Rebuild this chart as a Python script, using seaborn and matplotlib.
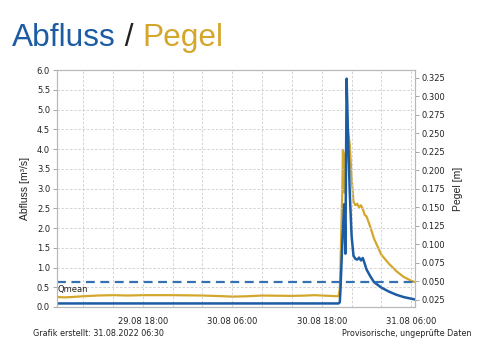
import pandas as pd
import numpy as np
import matplotlib
matplotlib.use("Agg")
import matplotlib.pyplot as plt
import matplotlib.dates as mdates
import seaborn as sns

# Abfluss (discharge, m3/s) - left axis
q_time = ["2022-08-29 06:30", "2022-08-30 20:15", "2022-08-30 20:25", "2022-08-30 20:30",
          "2022-08-30 20:45", "2022-08-30 21:00", "2022-08-30 21:05", "2022-08-30 21:10",
          "2022-08-30 21:20", "2022-08-30 21:30", "2022-08-30 21:45", "2022-08-30 22:00",
          "2022-08-30 22:15", "2022-08-30 22:30", "2022-08-30 22:45", "2022-08-30 23:00",
          "2022-08-30 23:15", "2022-08-30 23:30", "2022-08-30 23:45", "2022-08-31 00:00",
          "2022-08-31 00:30", "2022-08-31 01:00", "2022-08-31 01:30", "2022-08-31 02:00",
          "2022-08-31 03:00", "2022-08-31 04:00", "2022-08-31 05:00", "2022-08-31 06:00",
          "2022-08-31 06:30"]
q_vals = [0.09, 0.09, 0.12, 0.4,
          1.6, 2.6, 2.2, 1.35,
          5.78, 4.5, 2.9, 1.8,
          1.3, 1.22, 1.2, 1.25,
          1.18, 1.24, 1.1, 0.95,
          0.78, 0.63, 0.56, 0.49,
          0.39, 0.31, 0.25, 0.21,
          0.19]

# Pegel (water level, m) - right axis
h_time = ["2022-08-29 06:30", "2022-08-29 07:30", "2022-08-29 08:30", "2022-08-29 10:00",
          "2022-08-29 12:00", "2022-08-29 14:00", "2022-08-29 16:00", "2022-08-29 18:00",
          "2022-08-29 22:00", "2022-08-30 02:00", "2022-08-30 05:00", "2022-08-30 06:00",
          "2022-08-30 08:00", "2022-08-30 10:00", "2022-08-30 14:00", "2022-08-30 16:00",
          "2022-08-30 17:00", "2022-08-30 18:00", "2022-08-30 20:15", "2022-08-30 20:25",
          "2022-08-30 20:30", "2022-08-30 20:45", "2022-08-30 20:50", "2022-08-30 21:00",
          "2022-08-30 21:05", "2022-08-30 21:10", "2022-08-30 21:20", "2022-08-30 21:30",
          "2022-08-30 21:45", "2022-08-30 22:00", "2022-08-30 22:15", "2022-08-30 22:30",
          "2022-08-30 22:45", "2022-08-30 23:00", "2022-08-30 23:15", "2022-08-30 23:30",
          "2022-08-30 23:45", "2022-08-31 00:00", "2022-08-31 00:30", "2022-08-31 01:00",
          "2022-08-31 01:30", "2022-08-31 02:00", "2022-08-31 03:00", "2022-08-31 04:00",
          "2022-08-31 05:00", "2022-08-31 06:00", "2022-08-31 06:30"]
h_vals = [0.029, 0.0285, 0.029, 0.030,
          0.031, 0.0315, 0.031, 0.0315,
          0.0315, 0.031, 0.030, 0.0295,
          0.030, 0.031, 0.0305, 0.031,
          0.0315, 0.031, 0.030, 0.04,
          0.07, 0.17, 0.228, 0.22,
          0.17, 0.20, 0.245, 0.255,
          0.235, 0.19, 0.158, 0.153,
          0.155, 0.150, 0.153, 0.148,
          0.14, 0.138, 0.124, 0.108,
          0.097, 0.086, 0.074, 0.064,
          0.056, 0.051, 0.049]

q_mean = 0.64

blue = "#1c5ca2"
gold = "#d4a72c"
small = ["DejaVu Sans"]

q_df = pd.DataFrame({"time": pd.to_datetime(q_time), "value": q_vals})
h_df = pd.DataFrame({"time": pd.to_datetime(h_time), "value": h_vals})

sns.set_theme(style="white")
plt.rcParams["font.family"] = ["Liberation Sans", "DejaVu Sans"]

fig = plt.figure(figsize=(4.86, 3.56), dpi=100)
ax = fig.add_axes([57 / 486, 1 - 307 / 356, (415 - 57) / 486, (307 - 70) / 356])
ax2 = ax.twinx()

sns.lineplot(data=h_df, x="time", y="value", ax=ax2, color=gold, linewidth=1.6)
sns.lineplot(data=q_df, x="time", y="value", ax=ax, color=blue, linewidth=1.8)
ax.axhline(q_mean, color="#3570b0", linewidth=1.6, linestyle=(0, (4, 2.5)))

ax.set_zorder(ax2.get_zorder() + 1)
ax.patch.set_visible(False)

t0 = pd.Timestamp("2022-08-29 06:30")
t1 = pd.Timestamp("2022-08-31 06:30")
ax.set_xlim(t0, t1)
ax.set_ylim(0, 6.0)
ax2.set_ylim(0.0155, 0.3358)

ax.set_yticks(np.arange(0, 6.01, 0.5))
ax.set_yticklabels([f"{v:.1f}" for v in np.arange(0, 6.01, 0.5)])
ax2.set_yticks(np.arange(0.025, 0.3251, 0.025))
ax2.set_yticklabels([f"{v:.3f}" for v in np.arange(0.025, 0.3251, 0.025)])

ax.xaxis.set_major_locator(mdates.HourLocator(byhour=[6, 18]))
ax.xaxis.set_minor_locator(mdates.HourLocator(byhour=[2, 10, 14, 22]))
ax.xaxis.set_major_formatter(mdates.DateFormatter("%d.%m %H:%M"))

grid_kw = dict(color="#cccccc", linestyle=(0, (3, 2)), linewidth=0.6)
ax.grid(True, which="major", axis="y", **grid_kw)
ax.grid(True, which="both", axis="x", **grid_kw)

for a in (ax, ax2):
    for s in a.spines.values():
        s.set_color("#b8b8b8")
        s.set_linewidth(0.8)
    a.tick_params(axis="both", which="major", direction="out", length=3,
                  width=0.6, color="#999999", labelsize=6, labelcolor="#222222", pad=2)
    for lbl in a.get_xticklabels() + a.get_yticklabels():
        lbl.set_family(small)
ax.tick_params(axis="x", which="minor", length=0)
ax.tick_params(axis="x", pad=4)

ax.set_xlabel("")
ax.set_ylabel("Abfluss [m³/s]", fontsize=7.5, color="#222222", labelpad=5)
ax2.set_xlabel("")
ax2.set_ylabel("Pegel [m]", fontsize=7.5, color="#222222", labelpad=5)

ax.text(t0, q_mean - 0.08, "Qmean", fontsize=6, family=small, color="#222222",
        va="top", ha="left")

# title in three colours
fig.canvas.draw()
renderer = fig.canvas.get_renderer()
x = 12 / 486
y = 1 - 46 / 356
for part, col in [("Abfluss", blue), (" / ", "#222222"), ("Pegel", gold)]:
    t = fig.text(x, y, part, fontsize=22.8, color=col, ha="left", va="baseline")
    bb = t.get_window_extent(renderer=renderer)
    x += bb.width / fig.bbox.width

fig.text(33 / 486, 1 - 333 / 356, "Grafik erstellt: 31.08.2022 06:30", fontsize=5.8,
         family=small, color="#222222", ha="left", va="center")
fig.text(471 / 486, 1 - 334 / 356, "Provisorische, ungeprüfte Daten", fontsize=5.8,
         family=small, color="#222222", ha="right", va="center")

fig.savefig("out.png", dpi=100)
